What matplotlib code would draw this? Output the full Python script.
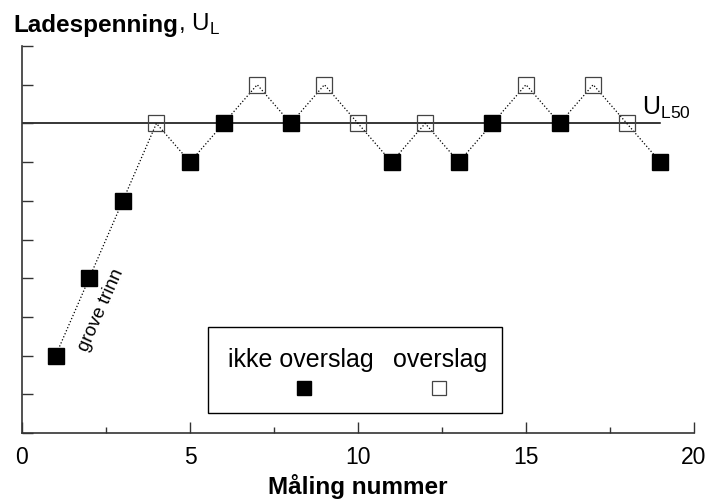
import numpy as np
import matplotlib
matplotlib.use("Agg")
import matplotlib.pyplot as plt
from matplotlib.patches import Rectangle

plt.rcParams['font.family'] = ['Liberation Sans', 'DejaVu Sans']
plt.rcParams['mathtext.fontset'] = 'custom'
plt.rcParams['mathtext.rm'] = 'Liberation Sans'

# data
maling = [1, 2, 3, 4, 5, 6, 7, 8, 9, 10, 11, 12, 13, 14, 15, 16, 17, 18, 19]
spenning = [2, 4, 6, 8, 7, 8, 9, 8, 9, 8, 7, 8, 7, 8, 9, 8, 9, 8, 7]
overslag = [0, 0, 0, 1, 0, 0, 1, 0, 1, 1, 0, 1, 0, 0, 1, 0, 1, 1, 0]
u50 = 8
x_ticks = [0, 5, 10, 15, 20]

maling = np.array(maling)
spenning = np.array(spenning)
overslag = np.array(overslag, dtype=bool)

fig = plt.figure(figsize=(7.08, 5.02), dpi=100)
ax = fig.add_axes([22/708, 68/502, 672/708, 387/502])

# U50 reference line and the dotted path through all tests
ax.plot([0, maling[-1]], [u50, u50], '-', color='black', lw=1.1, zorder=1)
ax.plot(maling, spenning, ':', color='black', lw=0.9, zorder=2)
ax.plot(maling[~overslag], spenning[~overslag], 's', ms=11,
        mfc='black', mec='black', zorder=3)
ax.plot(maling[overslag], spenning[overslag], 's', ms=11,
        mfc='none', mec='#444444', mew=0.9, zorder=3)

ax.text(18.45, u50 + 0.26, r'U$_\mathregular{L50}$', fontsize=18,
        ha='left', va='baseline')
ax.text(2.35, 3.2, 'grove trinn', fontsize=13.5, rotation=66,
        ha='center', va='center')

# legend drawn as a box with labels over the symbols
ax.add_patch(Rectangle((0.277, 0.052), 0.437, 0.222, transform=ax.transAxes,
                       fill=False, ec='black', lw=1.0, zorder=4))
ax.text(0.3065, 0.173, 'ikke overslag', transform=ax.transAxes,
        fontsize=18, ha='left', va='baseline')
ax.text(0.692, 0.173, 'overslag', transform=ax.transAxes,
        fontsize=18, ha='right', va='baseline')
ax.plot([0.419], [0.115], 's', ms=10, mfc='black', mec='black',
        transform=ax.transAxes, clip_on=False)
ax.plot([0.6205], [0.115], 's', ms=10, mfc='none', mec='#444444', mew=0.9,
        transform=ax.transAxes, clip_on=False)

ax.set_xlim(0, 20)
ax.set_ylim(0, 10)
ax.set_xticks(x_ticks)
ax.set_xticks(np.arange(0, 20.1, 2.5), minor=True)
ax.set_yticks(np.arange(0, 10.1, 1))
ax.set_yticklabels([])
ax.tick_params(axis='x', which='major', direction='in', length=8, width=1,
               labelsize=16.5, pad=9, color='#333333')
ax.tick_params(axis='x', which='minor', direction='in', length=4, width=1,
               color='#333333')
ax.tick_params(axis='y', direction='in', length=8, width=1, color='#333333')

for s in ['top', 'right']:
    ax.spines[s].set_visible(False)
for s in ['left', 'bottom']:
    ax.spines[s].set_color('#333333')
    ax.spines[s].set_linewidth(1.2)

ax.set_xlabel('Måling nummer', fontsize=17.5, fontweight='bold', labelpad=3)

t1 = fig.text(13/708, 1 - 32/502, 'Ladespenning', fontsize=17.5,
              fontweight='bold', ha='left', va='baseline')
ax.annotate(r', U$_\mathregular{L}$', xy=(1, 0), xycoords=t1, fontsize=17.5,
            ha='left', va='bottom', annotation_clip=False)

fig.savefig('out.png', dpi=100)
